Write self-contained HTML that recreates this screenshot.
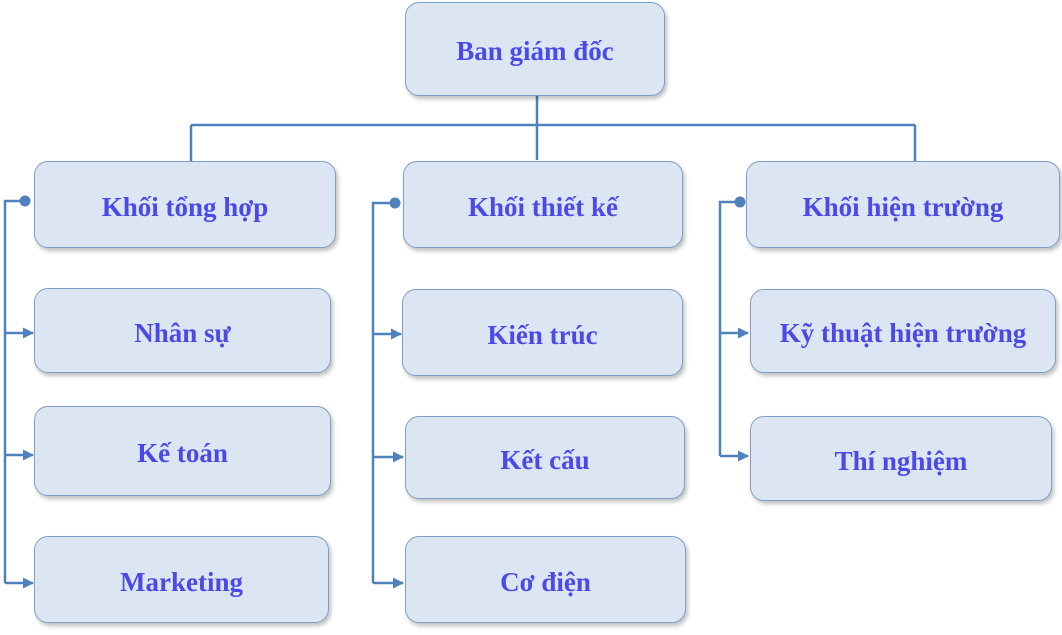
<!DOCTYPE html><html><head><meta charset="utf-8"><style>
body{margin:0;width:1062px;height:635px;background:#fff;position:relative;overflow:hidden}
.b{position:absolute;box-sizing:border-box;background:#dce6f2;border:1.5px solid #7f9fc8;border-radius:14px;box-shadow:2px 3px 4px rgba(0,0,0,.25);display:flex;align-items:center;justify-content:center;padding-top:5px;font:bold 27px "Liberation Serif",serif;color:#4a4ae8}
svg{position:absolute;left:0;top:0}
</style></head><body>
<svg width="1062" height="635"><defs><marker id="a" markerWidth="11" markerHeight="11" refX="10" refY="5.5" orient="auto" markerUnits="userSpaceOnUse"><path d="M0,0L11,5.5L0,11z" fill="#4f81bd"/></marker></defs>
<g stroke="#4f81bd" stroke-width="2.5" fill="none">
<path d="M537 96V160M191 125H915M191 125V161M915 125V161"/>
<path d="M25 201H5V583"/><path d="M5 333H33" marker-end="url(#a)"/><path d="M5 455H33" marker-end="url(#a)"/><path d="M5 583H33" marker-end="url(#a)"/>
<path d="M395 203H373V583"/><path d="M373 334H401" marker-end="url(#a)"/><path d="M373 457H403" marker-end="url(#a)"/><path d="M373 583H403" marker-end="url(#a)"/>
<path d="M740 202H720V456"/><path d="M720 333H748" marker-end="url(#a)"/><path d="M720 456H748" marker-end="url(#a)"/>
</g><g fill="#4f81bd"><circle cx="25" cy="201" r="5.5"/><circle cx="395" cy="203" r="5.5"/><circle cx="740" cy="202" r="5.5"/></g></svg>
<div class="b" style="left:405px;top:2px;width:260px;height:94px">Ban giám đốc</div>
<div class="b" style="left:34px;top:161px;width:302px;height:87px">Khối tổng hợp</div>
<div class="b" style="left:403px;top:161px;width:280px;height:87px">Khối thiết kế</div>
<div class="b" style="left:746px;top:161px;width:314px;height:87px">Khối hiện trường</div>
<div class="b" style="left:34px;top:288px;width:297px;height:85px">Nhân sự</div>
<div class="b" style="left:34px;top:406px;width:297px;height:90px">Kế toán</div>
<div class="b" style="left:34px;top:536px;width:295px;height:87px">Marketing</div>
<div class="b" style="left:402px;top:289px;width:281px;height:87px">Kiến trúc</div>
<div class="b" style="left:405px;top:416px;width:280px;height:83px">Kết cấu</div>
<div class="b" style="left:405px;top:536px;width:281px;height:87px">Cơ điện</div>
<div class="b" style="left:750px;top:289px;width:306px;height:84px">Kỹ thuật hiện trường</div>
<div class="b" style="left:750px;top:416px;width:302px;height:85px">Thí nghiệm</div>
</body></html>
